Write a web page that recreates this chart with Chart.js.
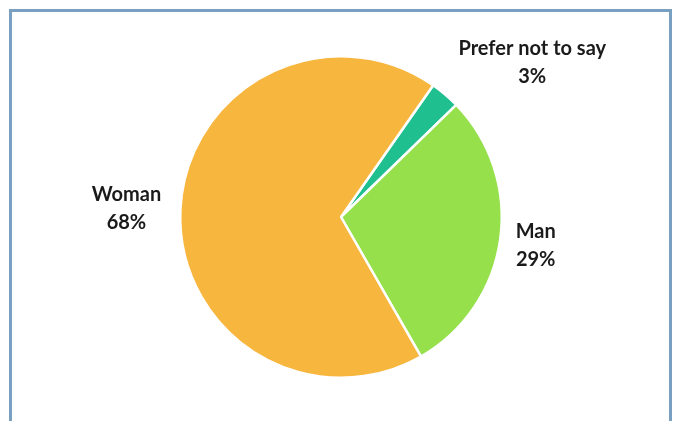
<!DOCTYPE html>
<html>
<head>
<meta charset="utf-8">
<script src="https://cdn.jsdelivr.net/npm/chart.js@4"></script>
<style>
  html, body { margin: 0; padding: 0; background: #fff; }
  #wrap { position: relative; width: 676px; height: 421px; overflow: hidden; }
  #frame {
    position: absolute; left: 9px; top: 9px; width: 663px; height: 430px;
    border: 3px solid #7aa0c1; box-sizing: border-box;
  }
  canvas { position: absolute; left: 0; top: 0; }
</style>
</head>
<body>
<div id="wrap">
  <div id="frame"></div>
  <canvas id="pieChart" width="676" height="421"></canvas>
</div>
<script>
var labels = ['Prefer not to say', 'Man', 'Woman'];
var shares = [3, 29, 68];
var colours = ['#1fbf8f', '#95e04b', '#f7b63e'];

// extra distance beyond the rim and angle nudge (deg) for each outside label
var labelGap = [85, 36, 54];
var labelTurn = [10.7, 0.3, -0.3];

var outsideLabels = {
    id: 'outsideLabels',
    afterDatasetsDraw: function (chart) {
        var ctx = chart.ctx;
        var meta = chart.getDatasetMeta(0);
        ctx.save();
        ctx.font = 'bold 20px Lato';
        ctx.fillStyle = '#1a1a1a';
        ctx.textAlign = 'center';
        ctx.textBaseline = 'middle';
        meta.data.forEach(function (arc, i) {
            var mid = (arc.startAngle + arc.endAngle) / 2 + labelTurn[i] * Math.PI / 180;
            var d = arc.outerRadius + labelGap[i];
            var x = arc.x + Math.cos(mid) * d;
            var y = arc.y + Math.sin(mid) * d;
            ctx.fillText(labels[i], x, y - 14);
            ctx.fillText(shares[i] + '%', x, y + 14);
        });
        ctx.restore();
    }
};

var ctx = document.getElementById('pieChart').getContext('2d');

var myChart = new Chart(ctx, {
    type: 'pie',
    data: {
        labels: labels,
        datasets: [{
            data: shares,
            backgroundColor: colours,
            borderColor: '#ffffff',
            borderWidth: 2.5
        }]
    },
    options: {
        responsive: false,
        animation: false,
        rotation: 35,
        layout: {
            padding: { left: 179, right: 173, top: 55, bottom: 42 }
        },
        plugins: {
            legend: { display: false },
            tooltip: { enabled: false }
        }
    },
    plugins: [outsideLabels]
});
</script>
</body>
</html>
